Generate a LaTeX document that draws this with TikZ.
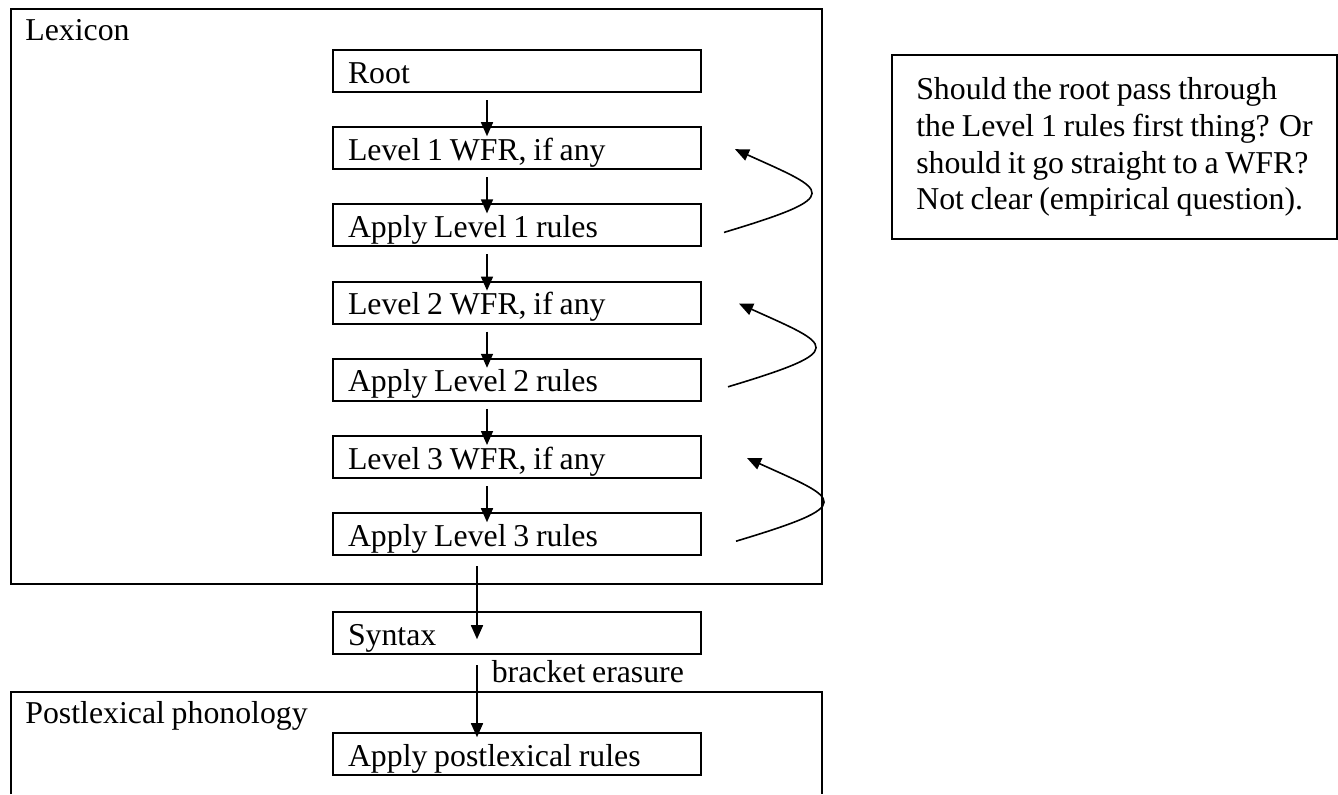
\documentclass[tikz,border=0pt]{standalone}
\usepackage{fontspec}
\setmainfont[WordSpace=0.85]{Liberation Serif}
\usetikzlibrary{arrows.meta,positioning}

\begin{document}
\begin{tikzpicture}[
		x=0.5pt, y=-0.5pt,
		font=\fontsize{15.9pt}{18.4pt}\selectfont,
		node distance=16.6pt,
		block/.style={draw, line width=1pt, minimum width=184pt, minimum height=21pt, text width=169pt, inner xsep=7.5pt, inner ysep=2pt, text height=12pt, text depth=0pt, align=flush left},
		frame/.style={draw, line width=1pt},
		title/.style={anchor=base west, inner sep=0pt},
		note/.style={draw, line width=1pt, minimum width=222.5pt, minimum height=92pt, align=left},
		flow/.style={-{Triangle[length=7pt, width=6pt]}, line width=0.8pt},
	]
		\useasboundingbox (0,0) rectangle (1338,794);
		
		\draw[frame] (11,9) rectangle (822,584);
		\node (lexlbl) [title] at (25,40) {Lexicon};
		\draw[frame] (11,794) -- (11,692) -- (822,692) -- (822,794);
		\node (postlbl) [title] at (25,723) {Postlexical phonology};
		
		\node (root) [block, anchor=north west] at (332,49) {Root};
		\node (wfr1) [block, below=of root] {Level 1 WFR, if any};
		\node (app1) [block, below=of wfr1] {Apply Level 1 rules};
		\node (wfr2) [block, below=of app1] {Level 2 WFR, if any};
		\node (app2) [block, below=of wfr2] {Apply Level 2 rules};
		\node (wfr3) [block, below=of app2] {Level 3 WFR, if any};
		\node (app3) [block, below=of wfr3] {Apply Level 3 rules};
		\node (syntax) [block, below=27.5pt of app3] {Syntax};
		\node (postapp) [block, below=38.5pt of syntax] {Apply postlexical rules};
		
		\node (query) [note, anchor=north west] at (891,54) {Should the root pass through\\the Level 1 rules first thing? Or\\should it go straight to a WFR?\\Not clear (empirical question).};
		
		\foreach \a/\b in {root/wfr1, wfr1/app1, app1/wfr2, wfr2/app2, app2/wfr3, wfr3/app3}
			\draw[flow, shorten <=3.5pt, shorten >=-5pt] ([xshift=-15pt]\a.south) -- ([xshift=-15pt]\b.north);
		\draw[flow, shorten <=5pt, shorten >=-14pt] ([xshift=-20pt]app3.south) -- ([xshift=-20pt]syntax.north);
		\draw[flow, shorten <=5pt, shorten >=-2.5pt] ([xshift=-20pt]syntax.south) -- ([xshift=-20pt]postapp.north) node[pos=0.36, anchor=base west, inner sep=0pt, xshift=7pt] (erase) {bracket erasure};
		
		% feedback loops
		\foreach \i/\d in {1/0, 2/4, 3/12}
			\draw[flow] ([shift={(22+\d,7)}]app\i.east) .. controls +(123,-37) and +(93,42) .. ([shift={(33+\d,1)}]wfr\i.east);
	\end{tikzpicture}
\end{document}
